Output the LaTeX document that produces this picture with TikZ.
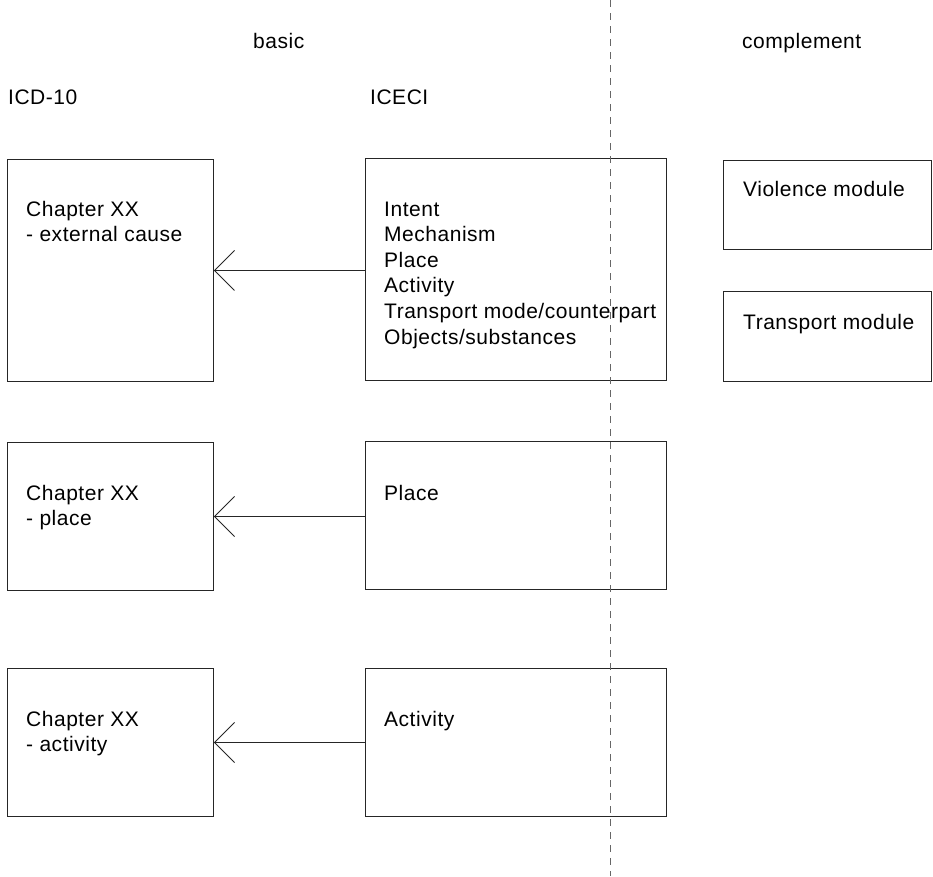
\documentclass[tikz,border=0pt]{standalone}
\usepackage{fontspec}
\setmainfont{Liberation Sans}[LetterSpace=2.5]
\usepackage{tikz}
\usetikzlibrary{arrows.meta}
\tikzset{
  box/.style    ={draw=black!85,line width=0.9pt,anchor=north west,inner sep=0pt},
  wbox/.style   ={box,minimum width=206pt,minimum height=148pt},
  ibox/.style   ={box,minimum width=301pt,minimum height=148pt},
  mbox/.style   ={box,minimum width=208pt,minimum height=89pt},
  txt/.style    ={anchor=base west,inner sep=0pt,font=\fontsize{21}{25.6}\selectfont},
  mapedge/.style={draw=black!85,line width=0.9pt,-{Straight Barb[length=20pt,width=40pt,line width=0.9pt]}},
  divider/.style={black!60,line width=0.9pt,dash pattern=on 7pt off 6pt},
}

\begin{document}
\begin{tikzpicture}[x=1pt,y=-1pt]
  \useasboundingbox (0,0) rectangle (933,876);
  % headings
  \node[txt](basic) at (253,48){basic};  \node[txt](compl) at (742,48){complement};
  \node[txt](icd) at (8,104){ICD-10};    \node[txt](iceci) at (370,104){ICECI};
  % boxes
  \node[wbox,minimum height=222pt](cd1) at (7,159){};  \node[ibox,minimum height=222pt](ic1) at (365,158){};
  \node[wbox](cd2) at (7,442){};                       \node[ibox](ic2) at (365,441){};
  \node[wbox](cd3) at (7,668){};                       \node[ibox](ic3) at (365,668){};
  \node[mbox](vm) at (723,160){};                      \node[mbox,minimum height=90pt](tm) at (723,291){};
  % texts
  \foreach \t [count=\i from 0] in {Intent,Mechanism,Place,Activity,Transport mode/counterpart,Objects/substances}
    {\node[txt](ic1l\i) at (384,216+25.6*\i){\t};}
  \node[txt](cd1a) at (26,216){Chapter XX};    \node[txt](cd1b) at (26,241.6){- external cause};
  \node[txt](cd2a) at (26,500){Chapter XX};    \node[txt](cd2b) at (26,525.6){- place};
  \node[txt](cd3a) at (26,726){Chapter XX};    \node[txt](cd3b) at (26,751.6){- activity};
  \node[txt](ic2a) at (384,500){Place};        \node[txt](ic3a) at (384,726){Activity};
  \node[txt](vma) at (743,196){Violence module};  \node[txt](tma) at (743,329){Transport module};
  % mappings
  \foreach \n in {1,2,3}{\draw[mapedge](cd\n.east -| ic\n.west)--(cd\n.east);}
  \coordinate (top) at (610,0); \coordinate (bot) at (610,876);
  \draw[divider](top)--(bot);
\end{tikzpicture}
\end{document}
